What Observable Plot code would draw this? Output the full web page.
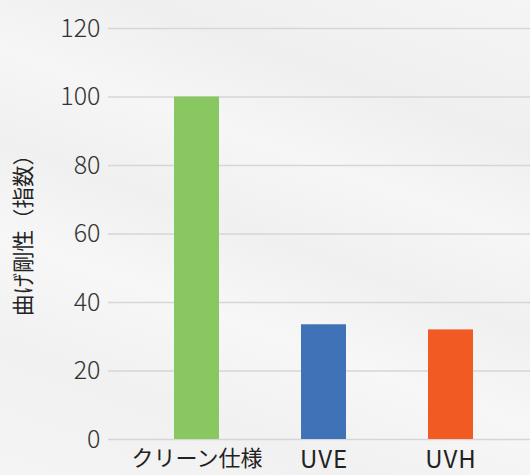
<!DOCTYPE html>
<html><head><meta charset="utf-8">
<script src="https://cdn.jsdelivr.net/npm/d3@7"></script>
<script src="https://cdn.jsdelivr.net/npm/@observablehq/plot@0.6"></script>
<style>
html,body{margin:0;padding:0;}
body{width:530px;height:475px;overflow:hidden;
background:linear-gradient(200deg,#f5f5f5 0%,#efefef 22%,#f6f6f6 36%,#f0f0f0 50%,#f7f7f7 64%,#f1f1f1 80%,#f4f4f4 100%);}
#chart svg{display:block;}
</style>
</head><body>
<div id="chart"></div>
<script>
const categories = ["クリーン仕様", "UVE", "UVH"];
const values = [100, 33.5, 32];
const colors = ["#89c761", "#4072b7", "#f15a22"];
const yTicks = [0, 20, 40, 60, 80, 100, 120];
const yLabel = "曲げ剛性（指数）";

const data = categories.map((c, i) => ({cat: c, v: values[i], color: colors[i]}));

const chart = Plot.plot({
  width: 530,
  height: 475,
  marginLeft: 108,
  marginRight: 0,
  marginTop: 28,
  marginBottom: 36,
  style: {background: "transparent", fontFamily: "'Noto Sans CJK JP', sans-serif", color: "#333"},
  x: {domain: categories, paddingInner: 0.648, paddingOuter: 0.4727, align: 0.537, label: null},
  y: {domain: [0, 120], ticks: yTicks, label: null},
  marks: [
    Plot.gridY(yTicks, {stroke: "#d6d6d6", strokeOpacity: 1, strokeWidth: 1.5}),
    Plot.barY(data, {x: "cat", y: "v", fill: "color"}),
    Plot.axisY(yTicks, {tickSize: 0, tickPadding: 8, fontSize: 25, fontWeight: 300, fill: "#333", label: null}),
    Plot.axisX({tickSize: 0, tickPadding: 11, fontSize: 22, fill: "#222", label: null}),
    Plot.text([yLabel], {frameAnchor: "left", textAnchor: "middle", dx: -84, dy: -4, rotate: -90, fontSize: 21.5, fill: "#222", text: d => d})
  ]
});
document.getElementById("chart").appendChild(chart);
// widen the Latin category labels (UVE, UVH) to match the reference's wider face
d3.select(chart).selectAll("text").filter(function () { return /^UV/.test(this.textContent); })
  .attr("font-size", 24).style("letter-spacing", "1px");
</script>
</body></html>
